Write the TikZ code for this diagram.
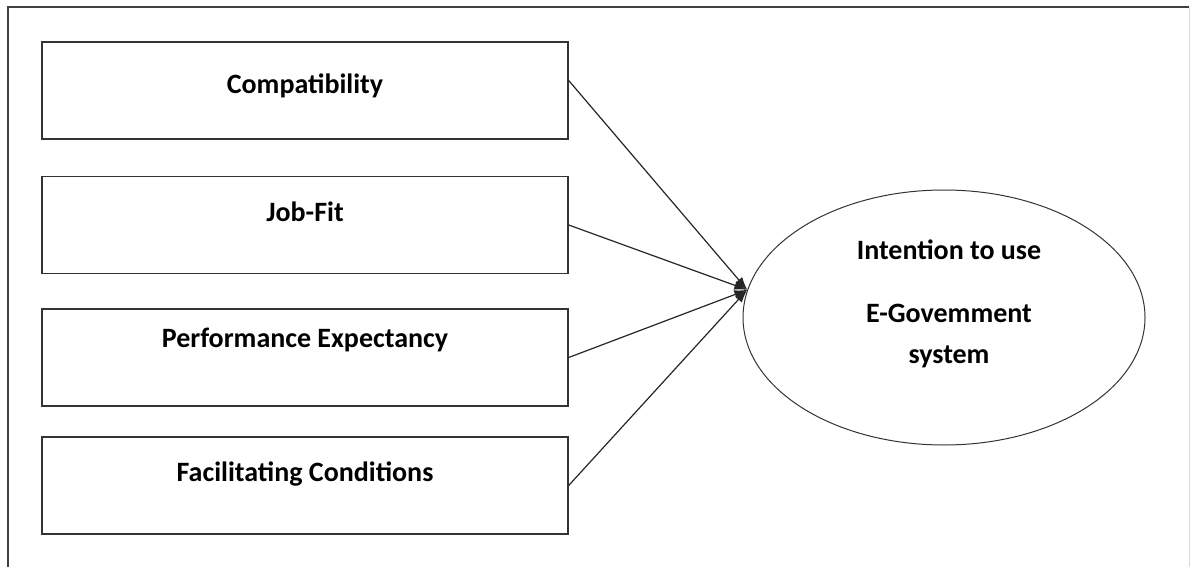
\documentclass[tikz,border=0pt]{standalone}
\usepackage{fontspec}
\setmainfont{Carlito}
\usetikzlibrary{shapes.geometric,arrows.meta}

\begin{document}
\begin{tikzpicture}[x=1pt,y=-1pt,
    factor/.style={draw=black!80,line width=1.4pt,minimum width=526pt,minimum height=97pt,inner sep=0pt,
        font=\bfseries\fontsize{28}{33}\selectfont,text height=19pt,text depth=27pt},
    goal/.style={draw=black!80,line width=1pt,ellipse,minimum width=402pt,minimum height=255pt,inner sep=0pt},
    conn/.style={draw=black!85,line width=1.2pt,-{Latex[length=13pt,width=9pt]}}]
    \useasboundingbox (0,0) rectangle (1192,567);
    \draw[line width=1.3pt,black!75] (8,567) -- (8,7) -- (1189,7);
    \draw[line width=0.6pt,black!15] (1189,7) -- (1189,567);
    \node[factor,text height=26pt,text depth=19pt] (compat) at (305,90.5) {Compatibility};
    \node[factor] (jobfit) at (305,225) {Job-Fit};
    \node[factor,text height=17pt,text depth=37pt] (perf) at (305,357.5) {Performance Expectancy};
    \node[factor] (facil) at (305,485.5) {Facilitating Conditions};
    \node[goal] (intent) at (944,317.5) {};
    \node[align=center,inner sep=0pt,font=\bfseries\fontsize{28}{33}\selectfont] (intentlabel) at (949,304)
        {Intention to use\\[30pt]E-Govemment\\[8pt]system};
    \draw[conn] ([yshift=10pt]compat.east) -- (intent.172);
    \foreach \b in {jobfit,perf,facil}{\draw[conn] (\b.east) -- (intent.172);}
\end{tikzpicture}
\end{document}
